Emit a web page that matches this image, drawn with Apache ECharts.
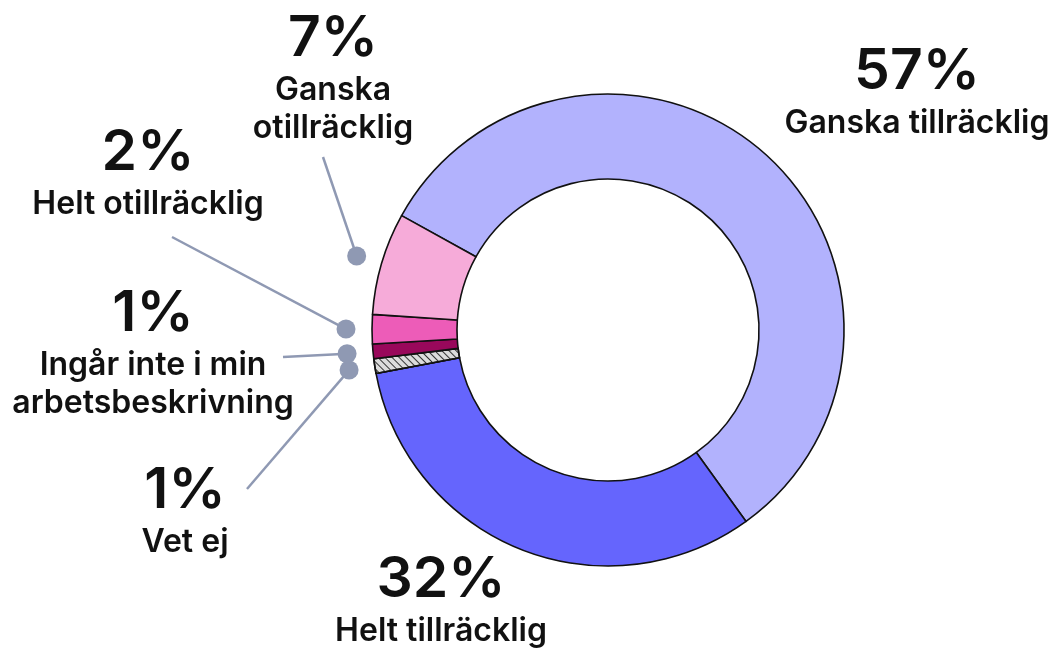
<!DOCTYPE html>
<html lang="sv">
  <head>
    <meta charset="utf-8" />
    <script src="https://cdn.jsdelivr.net/npm/echarts@6/dist/echarts.min.js"></script>
    <style>
      html, body { margin: 0; padding: 0; background: #fff; }
      #chart { width: 1055px; height: 650px; }
    </style>
    <title>Donut</title>
  </head>
  <body>
    <div id="chart"></div>
    <script>
      // slices, clockwise from the top-left
      var names = ['Ganska tillräcklig', 'Helt tillräcklig', 'Vet ej', 'Ingår inte i min\narbetsbeskrivning', 'Helt otillräcklig', 'Ganska\notillräcklig']
      var values = [57, 32, 1, 1, 2, 7]
      var colors = ['#b2b2fd', '#6565fd', '#dcdcdc', '#99085b', '#ed5cb8', '#f6abd9']
      var withDot = [false, false, true, true, true, true]

      var CX = 608, CY = 330, START = 151, DOT_R = 262

      // label centre and where its leader line ends
      var labelPos = [
        { x: 917, y: 91 },
        { x: 441, y: 599 },
        { x: 185, y: 510, end: [247, 489] },
        { x: 153, y: 352, end: [283, 357] },
        { x: 148, y: 172, end: [172, 237] },
        { x: 333, y: 77, end: [323, 157] }
      ]

      var total = values.reduce(function (a, b) { return a + b }, 0)
      var mids = []
      var acc = 0
      values.forEach(function (v) { mids.push(acc + v / 2); acc += v })

      function dotPoint (i) {
        var a = (START - mids[i] / total * 360) * Math.PI / 180
        return [CX + DOT_R * Math.cos(a), CY - DOT_R * Math.sin(a)]
      }

      var pieData = values.map(function (v, i) {
        var item = {
          name: names[i],
          value: v,
          itemStyle: { color: colors[i] },
          labelLine: { show: withDot[i] }
        }
        if (i === 2) {
          item.itemStyle.decal = {
            symbol: 'rect', color: '#333', symbolSize: 1,
            dashArrayX: [1, 0], dashArrayY: [1, 4], rotation: Math.PI / 4
          }
        }
        return item
      })

      var dotData = []
      values.forEach(function (v, i) {
        if (withDot[i]) dotData.push([1, mids[i]])
      })

      var chart = echarts.init(document.getElementById('chart'), null, { renderer: 'canvas' })
      chart.setOption({
        animation: false,
        polar: { center: [CX, CY], radius: DOT_R },
        angleAxis: { type: 'value', min: 0, max: total, startAngle: START, clockwise: true, show: false },
        radiusAxis: { type: 'value', min: 0, max: 1, show: false },
        series: [
          {
            type: 'pie',
            center: [CX, CY],
            radius: [151, 236],
            startAngle: START,
            clockwise: true,
            avoidLabelOverlap: false,
            silent: true,
            itemStyle: { borderColor: '#111', borderWidth: 1.6 },
            label: {
              show: true,
              position: 'outside',
              formatter: function (p) { return '{p|' + p.value + '%}\n{n|' + p.name.split('\n').join('}\n{n|') + '}' },
              rich: {
                p: { fontFamily: 'Inter', fontWeight: 600, fontSize: 57, lineHeight: 64, color: '#111', align: 'center' },
                n: { fontFamily: 'Inter', fontWeight: 600, fontSize: 32, lineHeight: 38, color: '#111', align: 'center' }
              }
            },
            labelLine: { lineStyle: { color: '#8f99b3', width: 2.5 } },
            labelLayout: function (params) {
              var i = params.dataIndex
              var pos = labelPos[i]
              var out = { x: pos.x, y: pos.y, align: 'center', verticalAlign: 'middle' }
              if (pos.end) out.labelLinePoints = [dotPoint(i), pos.end]
              return out
            },
            data: pieData
          },
          {
            type: 'scatter',
            coordinateSystem: 'polar',
            silent: true,
            symbol: 'circle',
            symbolSize: 19,
            itemStyle: { color: '#8f99b3', opacity: 1 },
            data: dotData
          }
        ]
      })
    </script>
  </body>
</html>
